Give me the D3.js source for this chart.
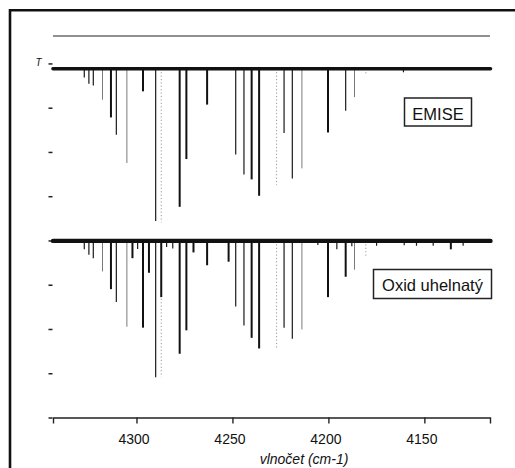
<!DOCTYPE html>
<html>
<head>
<meta charset="utf-8">
<script src="https://cdn.jsdelivr.net/npm/d3@7/dist/d3.min.js"></script>
<style>
  html, body { margin: 0; padding: 0; background: #fff; }
  svg { display: block; font-family: "Liberation Sans", Arial, sans-serif; }
</style>
</head>
<body>
<svg id="chart" width="515" height="468"></svg>
<script>
// Wavenumber axis (cm-1), reversed as in IR spectra
const xTicks = [4300, 4250, 4200, 4150];
const yTicks = [0, 1, 2, 3, 4, 5, 6, 7, 8];

// Emission spectrum: baseline level and line minima (transmittance units)
const emissionBase = 7.88;
const emissionWn = [4327.2, 4324.8, 4322.5, 4317.7, 4313.3, 4310.5, 4305.0, 4296.6, 4290.0, 4287.1,
  4277.5, 4274.0, 4263.2, 4248.3, 4244.0, 4240.0, 4236.1, 4227.0, 4223.1, 4218.8,
  4213.8, 4200.2, 4191.0, 4186.4, 4180.5, 4160.9];
const emissionT = [7.68, 7.54, 7.50, 7.18, 6.78, 6.39, 5.75, 7.37, 4.44, 4.41,
  4.76, 5.84, 7.07, 5.94, 5.49, 5.38, 5.01, 5.25, 6.43, 5.40,
  5.63, 6.44, 6.93, 7.24, 7.74, 7.80];
const emissionClass = ["m", "m", "m", "w", "s", "m", "w", "s", "m", "g",
  "s", "s", "s", "m", "m", "s", "s", "g", "m", "m",
  "w", "s", "m", "w", "g", "m"];

// Absorption spectrum of carbon monoxide
const absorptionBase = 3.99;
const absorptionWn = [4327.2, 4324.8, 4322.5, 4317.7, 4313.3, 4310.5, 4305.0, 4302.1, 4299.4, 4296.6,
  4293.5, 4290.0, 4287.1, 4287.1, 4284.3, 4281.1, 4277.5, 4274.0, 4270.3, 4263.2,
  4252.0, 4248.3, 4244.0, 4240.0, 4236.1, 4227.0, 4223.1, 4218.8, 4213.8, 4205.5,
  4200.2, 4195.6, 4191.0, 4187.8, 4186.4, 4180.5, 4174.9, 4160.5, 4154.1, 4145.4,
  4136.2, 4129.8];
const absorptionT = [3.80, 3.68, 3.60, 3.30, 2.90, 2.61, 2.05, 3.60, 3.81, 2.03,
  3.27, 0.91, 0.91, 2.72, 3.85, 3.82, 1.44, 1.97, 3.73, 3.44,
  3.52, 2.51, 2.08, 1.80, 1.56, 1.56, 2.03, 1.78, 1.99, 3.90,
  2.72, 3.80, 3.18, 3.87, 3.34, 3.62, 3.88, 3.89, 3.88, 3.88,
  3.80, 3.88];
const absorptionClass = ["m", "m", "m", "w", "s", "m", "w", "s", "m", "s",
  "s", "m", "g", "s", "m", "m", "s", "s", "s", "s",
  "s", "m", "m", "s", "s", "g", "m", "m", "w", "m",
  "s", "m", "s", "m", "w", "g", "m", "m", "m", "m",
  "s", "m"];

const panelLabels = ["EMISE", "Oxid uhelnatý"];
const xTitle = "vlnočet (cm-1)";
const yTitle = "T";

const svg = d3.select("#chart");

const x = d3.scaleLinear().domain([4343.5, 4115.8]).range([53, 490]);
const y = d3.scaleLinear().domain([0, 8.62]).range([417.5, 36]);

// line appearance per intensity class
const strokeColor = d3.scaleOrdinal().domain(["s", "m", "w", "g"]).range(["#111", "#1a1a1a", "#7a7a7a", "#9a9a9a"]);
const strokeWidth = d3.scaleOrdinal().domain(["s", "m", "w", "g"]).range([2, 1.2, 1, 1]);
const strokeDash = d3.scaleOrdinal().domain(["s", "m", "w", "g"]).range([null, null, null, "1.2,2.2"]);

// outer frame
svg.append("path")
  .attr("d", "M10,468V10.3H515")
  .attr("fill", "none").attr("stroke", "#111").attr("stroke-width", 2.6);

// top border of plot
svg.append("line")
  .attr("x1", x.range()[0]).attr("x2", x.range()[1])
  .attr("y1", y(8.62)).attr("y2", y(8.62))
  .attr("stroke", "#222").attr("stroke-width", 1.2);

// x axis
const xAxis = svg.append("g")
  .attr("transform", `translate(0,${y(0)})`)
  .call(d3.axisBottom(x).tickValues(xTicks).tickSize(6).tickPadding(10.5).tickFormat(d3.format("d")));
xAxis.select(".domain").attr("stroke", "#222").attr("stroke-width", 1.4);
xAxis.selectAll(".tick line").attr("stroke", "#222").attr("stroke-width", 1.4);
xAxis.selectAll(".tick text")
  .attr("font-size", 14).attr("fill", "#111").attr("dx", -3)
  .attr("font-family", "'Liberation Sans', Arial, sans-serif");

// y axis: tick marks only
const yAxis = svg.append("g")
  .attr("transform", `translate(${x.range()[0] - 0.5},0)`)
  .call(d3.axisLeft(y).tickValues(yTicks).tickSize(4).tickFormat(""));
yAxis.select(".domain").remove();
yAxis.selectAll(".tick line").attr("stroke", "#222").attr("stroke-width", 1.5);

svg.append("text")
  .attr("x", 38.5).attr("y", 65.5)
  .attr("text-anchor", "middle")
  .attr("font-size", 10).attr("font-style", "italic").attr("fill", "#111")
  .text(yTitle);

svg.append("text")
  .attr("x", 304).attr("y", 464)
  .attr("text-anchor", "middle")
  .attr("font-size", 14).attr("font-style", "italic").attr("fill", "#111")
  .text(xTitle);

function drawSpectrum(base, wn, tv, cls, baseWidth) {
  const g = svg.append("g");
  const lines = wn.map((w, i) => ({ w, t: tv[i], c: cls[i] }));
  // ghost lines underneath
  lines.sort((a, b) => (a.c === "g" ? -1 : 0) - (b.c === "g" ? -1 : 0));
  g.selectAll("line.peak").data(lines).join("line")
    .attr("class", "peak")
    .attr("x1", d => x(d.w)).attr("x2", d => x(d.w))
    .attr("y1", y(base)).attr("y2", d => y(d.t))
    .attr("stroke", d => strokeColor(d.c))
    .attr("stroke-width", d => strokeWidth(d.c))
    .attr("stroke-dasharray", d => strokeDash(d.c));
  g.append("line")
    .attr("x1", x.range()[0]).attr("x2", x.range()[1] + 0.5)
    .attr("y1", y(base)).attr("y2", y(base))
    .attr("stroke", "#111").attr("stroke-width", baseWidth)
    .attr("stroke-linecap", "round");
}

drawSpectrum(emissionBase, emissionWn, emissionT, emissionClass, 3.6);
drawSpectrum(absorptionBase, absorptionWn, absorptionT, absorptionClass, 4.4);

// panel labels in boxes
function labelBox(text, cx, baseline, w, h, top) {
  svg.append("rect")
    .attr("x", cx - w / 2).attr("y", top).attr("width", w).attr("height", h)
    .attr("fill", "#fff").attr("stroke", "#222").attr("stroke-width", 1.5);
  svg.append("text")
    .attr("x", cx).attr("y", baseline)
    .attr("text-anchor", "middle")
    .attr("font-size", 16.5).attr("fill", "#111")
    .text(text);
}
labelBox(panelLabels[0], 438, 119.5, 67, 28, 98);
labelBox(panelLabels[1], 432.5, 291, 118, 29, 269.5);
</script>
</body>
</html>
